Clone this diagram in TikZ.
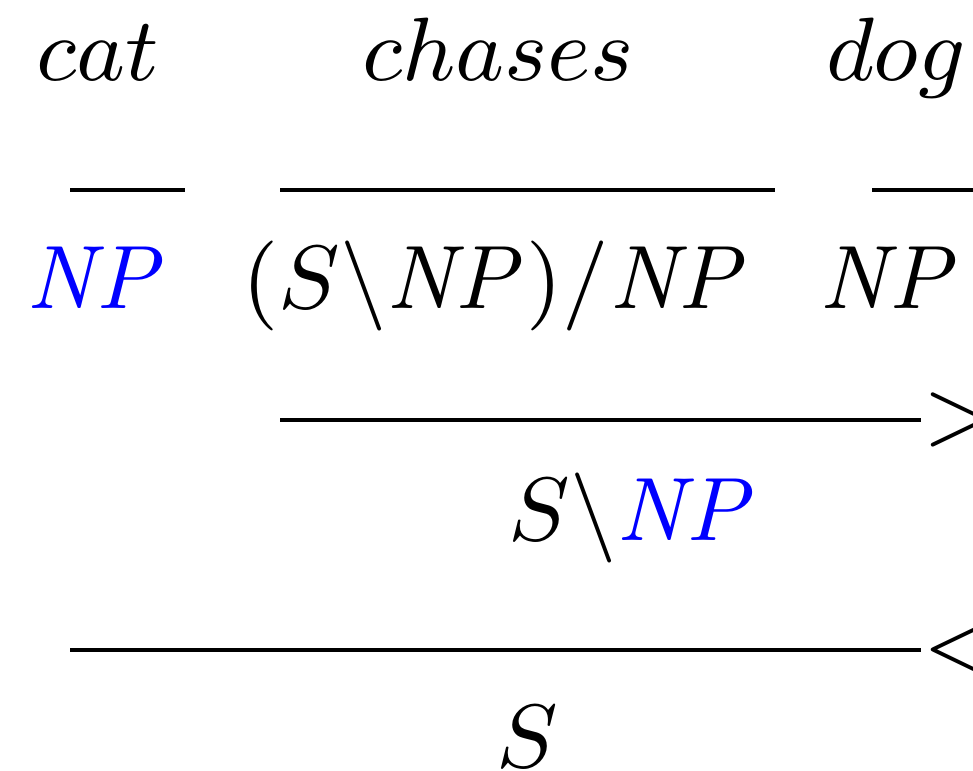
\documentclass[tikz,border=0pt]{standalone}
\usepackage{amsmath, amssymb}
\usepackage{tikz}
\usepackage{xcolor}
\usetikzlibrary{positioning}
\newcommand{\NP}{\mathit{NP}}

\begin{document}
\begin{tikzpicture}[x=0.1pt, y=-0.1pt,
    font=\fontsize{9.4}{11}\selectfont,
    word/.style={inner sep=0pt, anchor=base},
    rule/.style={line width=0.45pt},
    comb/.style={inner sep=0pt, anchor=west}]
    \useasboundingbox (0,0) rectangle (973,770);
    % Words
    \node[word] (w1) at (98,80) {$cat$};
    \node[word] (w2) at (498,80) {$chases$};
    \node[word] (w3) at (896,80) {$dog$};

    % Lexical categories
    \node[word] (c1) at (97,308) {$\color{blue}\NP$};
    \node[word] (c2) at (496,308) {$(S\backslash \NP)/\NP$};
    \node[word] (c3) at (890,308) {$\NP$};
    \draw[rule] (70,190) coordinate (l1a) -- (185,190) coordinate (l1b);
    \draw[rule] (280,190) coordinate (l2a) -- (775,190) coordinate (l2b);
    \draw[rule] (872,190) coordinate (l3a) -- (990,190) coordinate (l3b);

    % Forward application
    \coordinate (fa) at (280,420);
    \coordinate (fb) at (921,420);
    \draw[rule] (fa) -- (fb);
    \node[comb] (fwd) at (fb) {$>$};
    \node[word] (vp) at (633,540) {$S\backslash{\color{blue}\NP}$};

    % Backward application
    \coordinate (ba) at (70,650);
    \coordinate (bb) at (921,650);
    \draw[rule] (ba) -- (bb);
    \node[comb] (bwd) at (bb) {$<$};
    \node[word] (s) at (527,767) {$S$};
\end{tikzpicture}
\end{document}
